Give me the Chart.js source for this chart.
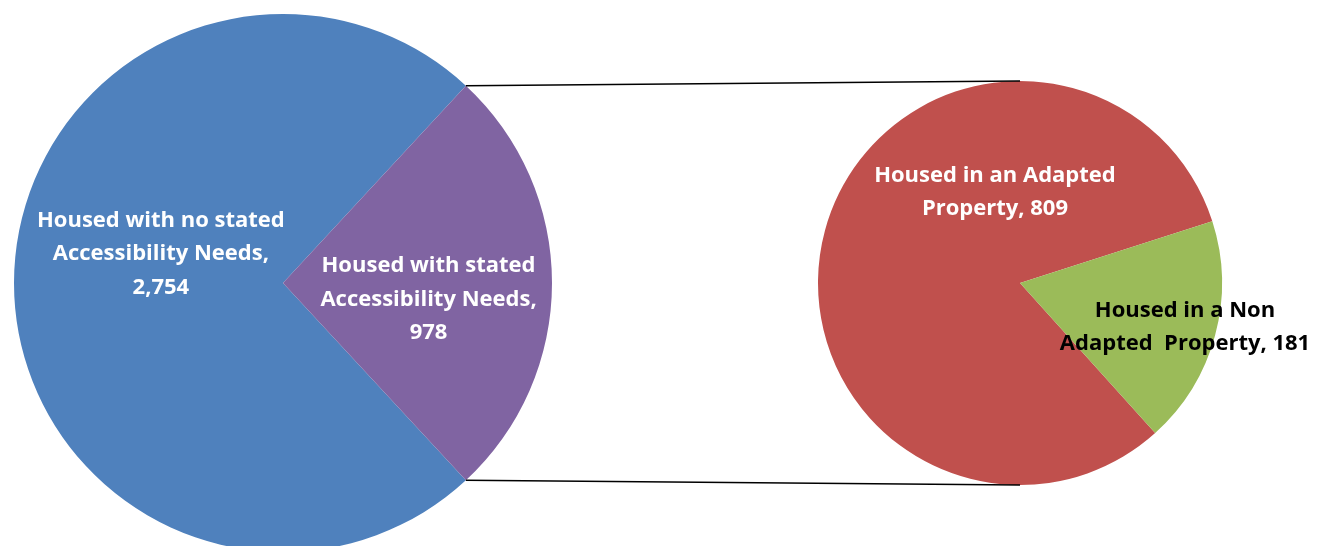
<!DOCTYPE html>
<html>
<head>
<meta charset="utf-8">
<script src="https://cdn.jsdelivr.net/npm/chart.js@4.4.1/dist/chart.umd.min.js"></script>
<style>
  html, body { margin: 0; padding: 0; background: #fff; overflow: hidden; }
  #wrap { position: relative; width: 1331px; height: 546px; }
  #wrap canvas { position: absolute; left: 0; top: 0; }
</style>
</head>
<body>
<div id="wrap">
  <canvas id="leftPie" width="1331" height="566"></canvas>
  <canvas id="rightPie" width="1331" height="566"></canvas>
</div>
<script>
// data
const leftLabels = ['Housed with no stated\nAccessibility Needs', 'Housed with stated\nAccessibility Needs'];
const leftValues = [2754, 978];
const rightLabels = ['Housed in an Adapted\nProperty', 'Housed in a Non\nAdapted  Property'];
const rightValues = [809, 181];

const leftColors = ['#4F81BD', '#8064A2'];
const rightColors = ['#C0504D', '#9BBB59'];

const FONT = 'bold 22px "Open Sans", Lato, sans-serif';
const LINE_H = 33.5;

// label anchors, as fraction of radius from pie centre
const leftAnchors = [[-0.454, -0.108], [0.541, 0.062]];
const rightAnchors = [[-0.124, -0.45], [0.817, 0.22]];

function fmt(v) { return v.toLocaleString('en-US'); }

function labelPlugin(labels, values, sep, anchors, colors) {
    return {
        id: 'sliceLabels',
        afterDatasetsDraw(chart) {
            const ctx = chart.ctx;
            const arcs = chart.getDatasetMeta(0).data;
            ctx.save();
            ctx.font = FONT;
            ctx.textAlign = 'center';
            ctx.textBaseline = 'middle';
            arcs.forEach((arc, i) => {
                const lines = (labels[i] + ',' + sep + fmt(values[i])).split('\n');
                const cx = arc.x + anchors[i][0] * arc.outerRadius;
                const cy = arc.y + anchors[i][1] * arc.outerRadius;
                ctx.fillStyle = colors[i];
                lines.forEach((ln, j) => {
                    ctx.fillText(ln, cx, cy + (j - (lines.length - 1) / 2) * LINE_H);
                });
            });
            ctx.restore();
        }
    };
}

const baseOpts = {
    responsive: false,
    animation: false,
    events: [],
    plugins: { legend: { display: false }, tooltip: { enabled: false } }
};

const leftTotal = leftValues.reduce((a, b) => a + b, 0);

const leftChart = new Chart(document.getElementById('leftPie'), {
    type: 'pie',
    data: {
        labels: leftLabels,
        datasets: [{ data: leftValues, backgroundColor: leftColors, borderWidth: 0 }]
    },
    options: Object.assign({}, baseOpts, {
        rotation: 90 + 180 * leftValues[1] / leftTotal,
        layout: { padding: { left: 14, top: 14, right: 779, bottom: 14 } }
    }),
    plugins: [labelPlugin(leftLabels, leftValues, '\n', leftAnchors, ['#fff', '#fff'])]
});

const connectorPlugin = {
    id: 'connectors',
    afterDatasetsDraw(chart) {
        const src = leftChart.getDatasetMeta(0).data[1];
        const dst = chart.getDatasetMeta(0).data[0];
        const ctx = chart.ctx;
        const p1 = [src.x + src.outerRadius * Math.cos(src.startAngle), src.y + src.outerRadius * Math.sin(src.startAngle)];
        const p2 = [src.x + src.outerRadius * Math.cos(src.endAngle), src.y + src.outerRadius * Math.sin(src.endAngle)];
        const q1 = [dst.x, dst.y - dst.outerRadius];
        const q2 = [dst.x, dst.y + dst.outerRadius];
        ctx.save();
        ctx.strokeStyle = '#000';
        ctx.lineWidth = 1.5;
        ctx.beginPath();
        ctx.moveTo(p1[0], p1[1]); ctx.lineTo(q1[0], q1[1]);
        ctx.moveTo(p2[0], p2[1]); ctx.lineTo(q2[0], q2[1]);
        ctx.stroke();
        ctx.restore();
    }
};

new Chart(document.getElementById('rightPie'), {
    type: 'pie',
    data: {
        labels: rightLabels,
        datasets: [{ data: rightValues, backgroundColor: rightColors, borderWidth: 0 }]
    },
    options: Object.assign({}, baseOpts, {
        rotation: 138,
        layout: { padding: { left: 818, top: 81, right: 109, bottom: 81 } }
    }),
    plugins: [connectorPlugin, labelPlugin(rightLabels, rightValues, ' ', rightAnchors, ['#fff', '#000'])]
});
</script>
</body>
</html>
